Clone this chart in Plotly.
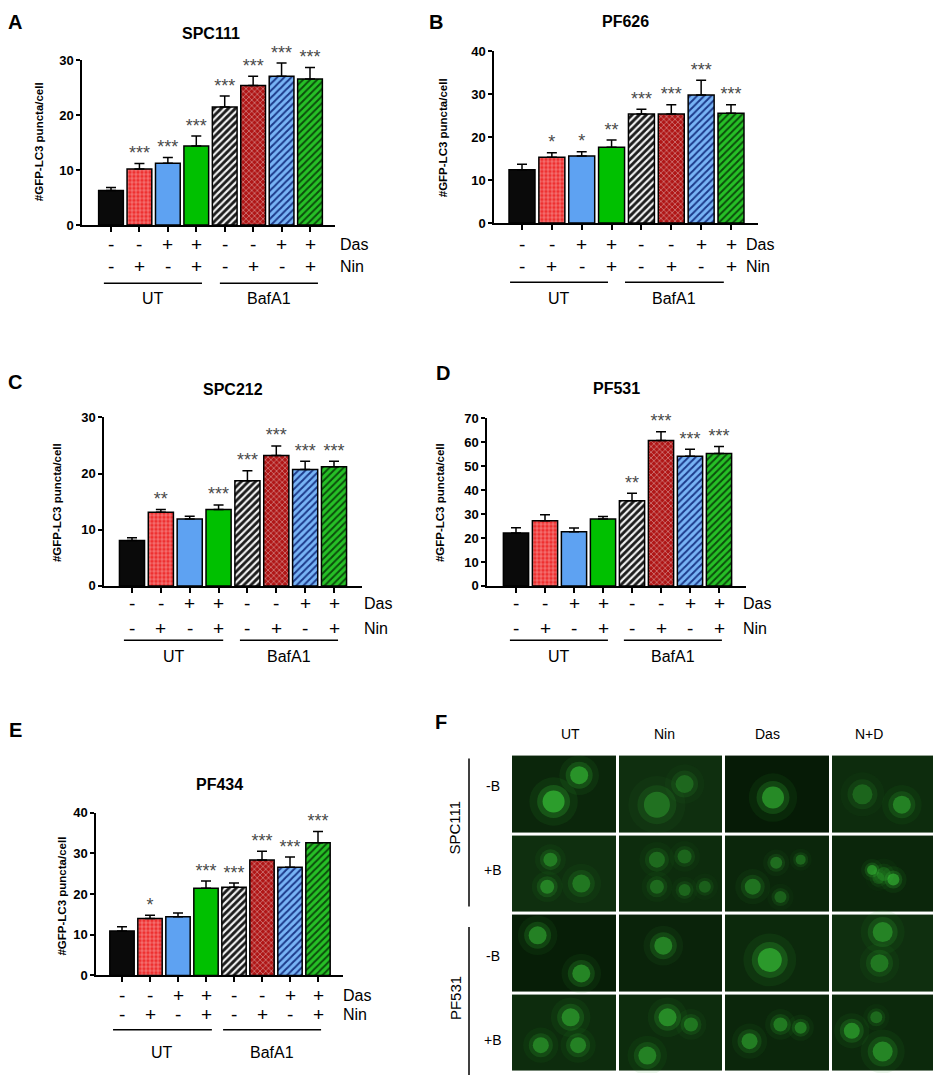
import plotly.graph_objects as go

# ---------------- data ----------------
das = ['-', '-', '+', '+', '-', '-', '+', '+']
nin = ['-', '+', '-', '+', '-', '+', '-', '+']
groups = ['UT', 'BafA1']

A_mean = [6.3, 10.2, 11.25, 14.4, 21.5, 25.4, 27.1, 26.6]
A_err = [0.55, 1.0, 1.05, 1.8, 2.0, 1.7, 2.4, 2.1]
A_stars = ['', '***', '***', '***', '***', '***', '***', '***']

B_mean = [12.4, 15.35, 15.65, 17.65, 25.4, 25.4, 29.85, 25.6]
B_err = [1.3, 1.05, 1.0, 1.7, 1.15, 2.2, 3.45, 2.0]
B_stars = ['', '*', '*', '**', '***', '***', '***', '***']

C_mean = [8.1, 13.1, 11.9, 13.6, 18.7, 23.2, 20.7, 21.2]
C_err = [0.45, 0.5, 0.5, 0.8, 1.8, 1.7, 1.5, 1.0]
C_stars = ['', '**', '', '***', '***', '***', '***', '***']

D_mean = [22.1, 27.2, 22.6, 27.9, 35.6, 60.7, 54.1, 55.3]
D_err = [2.2, 2.5, 1.6, 1.1, 3.1, 3.7, 3.0, 2.9]
D_stars = ['', '', '', '', '**', '***', '***', '***']

E_mean = [10.9, 13.98, 14.4, 21.4, 21.7, 28.4, 26.6, 32.6]
E_err = [1.05, 0.8, 0.95, 1.8, 1.0, 2.1, 2.5, 2.8]
E_stars = ['', '*', '', '***', '***', '***', '***', '***']

# panel F: microscopy tiles (rows: SPC111 -B, SPC111 +B, PF531 -B, PF531 +B)
F_cols = ['UT', 'Nin', 'Das', 'N+D']
F_rows = ['-B', '+B', '-B', '+B']
F_cells = ['SPC111', 'PF531']
F_bg = [[0.30, 0.45, 0.10, 0.40],
        [0.45, 0.40, 0.30, 0.30],
        [0.15, 0.25, 0.35, 0.45],
        [0.40, 0.40, 0.30, 0.35]]
F_blob_row = [0, 0, 0, 0, 0, 0, 0,
              1, 1, 1, 1, 1, 1, 1, 1, 1, 1, 1, 1, 1, 1, 1, 1,
              2, 2, 2, 2, 2, 2,
              3, 3, 3, 3, 3, 3, 3, 3, 3, 3, 3, 3]
F_blob_col = [0, 0, 1, 1, 2, 3, 3,
              0, 0, 0, 1, 1, 1, 1, 1, 2, 2, 2, 2, 3, 3, 3, 3,
              0, 0, 1, 2, 3, 3,
              0, 0, 0, 1, 1, 1, 2, 2, 2, 3, 3, 3]
F_blob_fx = [0.40, 0.64, 0.37, 0.63, 0.46, 0.30, 0.67,
             0.37, 0.34, 0.66, 0.37, 0.63, 0.37, 0.63, 0.82, 0.27, 0.49, 0.72, 0.53, 0.39, 0.59, 0.50, 0.45,
             0.25, 0.66, 0.43, 0.43, 0.49, 0.46,
             0.56, 0.28, 0.63, 0.47, 0.69, 0.28, 0.24, 0.53, 0.72, 0.20, 0.49, 0.43]
F_blob_fy = [0.59, 0.26, 0.63, 0.37, 0.54, 0.50, 0.63,
             0.32, 0.66, 0.62, 0.32, 0.28, 0.66, 0.70, 0.66, 0.66, 0.36, 0.32, 0.79, 0.45, 0.57, 0.50, 0.55,
             0.27, 0.75, 0.40, 0.58, 0.23, 0.62,
             0.30, 0.65, 0.65, 0.30, 0.39, 0.78, 0.60, 0.39, 0.43, 0.47, 0.73, 0.30]
F_blob_size = [22, 18, 26, 18, 22, 20, 18,
               14, 14, 18, 16, 14, 14, 12, 12, 16, 12, 10, 12, 10, 12, 14, 12,
               18, 18, 18, 24, 20, 18,
               18, 16, 16, 18, 14, 18, 16, 14, 12, 16, 20, 12]
F_blob_bright = [1.0, 0.9, 0.55, 0.45, 0.85, 0.45, 0.7,
                 0.65, 0.7, 0.6, 0.5, 0.45, 0.5, 0.45, 0.4, 0.6, 0.55, 0.5, 0.45, 0.8, 0.85, 0.35, 0.3,
                 0.75, 0.8, 0.75, 0.95, 0.7, 0.6,
                 0.75, 0.7, 0.7, 0.8, 0.6, 0.7, 0.7, 0.65, 0.65, 0.8, 0.75, 0.5]

# ---------------- geometry (page pixels; the page body keeps its default 8 px margin) ----------------
PAGE_W, PAGE_H = 941, 1091
OFF = 8
W, H = PAGE_W - OFF, PAGE_H - 2 * OFF


def px(x):
    return min(max((x - OFF) / W, 0.0), 1.0)


def py(y):
    return min(max(1 - (y - OFF) / H, 0.0), 1.0)


bar_style = [
    dict(color='#0a0a0a'),
    dict(color='#ee3030', pattern=dict(shape='+', fgcolor='#ffffff', bgcolor='#ee3030',
                                       fgopacity=0.85, size=4, solidity=0.18)),
    dict(color='#5ea2f2'),
    dict(color='#00c000'),
    dict(color='#262626', pattern=dict(shape='/', fgcolor='#f2f2f2', bgcolor='#1c1c1c',
                                       fgopacity=1, size=5, solidity=0.42)),
    dict(color='#b81a1a', pattern=dict(shape='x', fgcolor='#f0f0f0', bgcolor='#b01616',
                                       fgopacity=0.8, size=4, solidity=0.22)),
    dict(color='#6aaaf4', pattern=dict(shape='/', fgcolor='#1c3a8a', bgcolor='#78b4f6',
                                       fgopacity=1, size=5, solidity=0.4)),
    dict(color='#22b822', pattern=dict(shape='/', fgcolor='#0b4d0b', bgcolor='#26c026',
                                       fgopacity=1, size=5, solidity=0.4)),
]

panels = [
    dict(letter='A', title='SPC111', mean=A_mean, err=A_err, stars=A_stars, ymax=30, dtick=10,
         x0=82, x1=335, c1=111, c8=310, y0=221, ytop=54, das_y=241, nin_y=263, lbl_x=338,
         line_y=280, grp_y=296, ut=(-0.25, 3.2), baf=(3.83, 7.28), yt=(39, 137),
         txy=(211, 27), lxy=(15, 15)),
    dict(letter='B', title='PF626', mean=B_mean, err=B_err, stars=B_stars, ymax=40, dtick=10,
         x0=494, x1=758, c1=522, c8=731, y0=219, ytop=45, das_y=241, nin_y=263, lbl_x=744,
         line_y=279, grp_y=296, ut=(-0.4, 2.88), baf=(3.45, 6.76), yt=(443, 133),
         txy=(625, 15), lxy=(436, 15)),
    dict(letter='C', title='SPC212', mean=C_mean, err=C_err, stars=C_stars, ymax=30, dtick=10,
         x0=104, x1=362, c1=132, c8=334, y0=587, ytop=416, das_y=605, nin_y=630, lbl_x=362,
         line_y=642, grp_y=659, ut=(-0.28, 3.16), baf=(3.74, 7.14), yt=(57, 503),
         txy=(233, 388), lxy=(15, 380)),
    dict(letter='D', title='PF531', mean=D_mean, err=D_err, stars=D_stars, ymax=70, dtick=10,
         x0=487, x1=746, c1=516, c8=719, y0=587, ytop=417, das_y=605, nin_y=630, lbl_x=741,
         line_y=642, grp_y=659, ut=(-0.21, 3.17), baf=(3.72, 7.1), yt=(440, 503),
         txy=(616, 387), lxy=(443, 371)),
    dict(letter='E', title='PF434', mean=E_mean, err=E_err, stars=E_stars, ymax=40, dtick=10,
         x0=96, x1=343, c1=122, c8=318, y0=982, ytop=817, das_y=1002, nin_y=1022, lbl_x=341,
         line_y=1037, grp_y=1060, ut=(-0.32, 3.21), baf=(3.61, 7.11), yt=(62, 902),
         txy=(219, 788), lxy=(15, 733)),
]

FONT = 'Liberation Sans'
fig = go.Figure()
annotations = []
shapes = []
layout_axes = {}


def note(x, y, text, size, xref='paper', yref='paper', xanchor='center', angle=0,
         weight='normal', color='black'):
    annotations.append(dict(x=x, xref=xref, y=y, yref=yref, text=text, showarrow=False,
                            xanchor=xanchor, yanchor='middle', textangle=angle,
                            font=dict(family=FONT, size=size, color=color, weight=weight)))


for k, p in enumerate(panels, start=1):
    xs = list(range(len(p['mean'])))
    sp = (p['c8'] - p['c1']) / 7.0
    lo = -(p['c1'] - p['x0']) / sp
    hi = 7 + (p['x1'] - p['c8']) / sp
    xa, ya = f'x{k}', f'y{k}'
    for i in xs:
        st = bar_style[i]
        mk = dict(color=st['color'], line=dict(color='black', width=1.5))
        if 'pattern' in st:
            mk['pattern'] = dict(fillmode='replace', **st['pattern'])
        fig.add_trace(go.Bar(
            x=[i], y=[p['mean'][i]], width=0.87, xaxis=xa, yaxis=ya, marker=mk,
            error_y=dict(type='data', symmetric=False, array=[p['err'][i]], arrayminus=[0],
                         color='black', thickness=1.5, width=5),
            showlegend=False, hoverinfo='skip'))
    fig.add_trace(go.Scatter(
        x=xs, y=[m + e for m, e in zip(p['mean'], p['err'])], text=p['stars'],
        mode='text', textposition='top center', xaxis=xa, yaxis=ya,
        textfont=dict(family=FONT, size=18, color='#4a4a4a'),
        showlegend=False, hoverinfo='skip', cliponaxis=False))
    layout_axes[f'xaxis{k}'] = dict(
        domain=[px(p['x0']), px(p['x1'])], range=[lo, hi], anchor=ya,
        showline=True, linecolor='black', linewidth=1.5, showgrid=False, zeroline=False,
        ticks='outside', ticklen=5, tickwidth=1.5, tickcolor='black',
        tickvals=xs, showticklabels=False, fixedrange=True)
    layout_axes[f'yaxis{k}'] = dict(
        domain=[py(p['y0']), py(p['ytop'])], range=[0, p['ymax']], anchor=xa,
        showline=True, linecolor='black', linewidth=1.5, showgrid=False, zeroline=False,
        ticks='outside', ticklen=4, tickwidth=1.5, tickcolor='black',
        tickvals=list(range(0, p['ymax'] + 1, p['dtick'])),
        tickfont=dict(family=FONT, size=13, color='black', weight='bold'), fixedrange=True)
    for i in xs:
        note(i, py(p['das_y']), das[i], 19, xref=xa)
        note(i, py(p['nin_y']), nin[i], 19, xref=xa)
    for lbl, yy in (('Das', p['das_y']), ('Nin', p['nin_y'])):
        note(px(p['lbl_x']), py(yy), lbl, 16, xanchor='left')
    for g, (a, b) in zip(groups, (p['ut'], p['baf'])):
        shapes.append(dict(type='line', xref=xa, yref='paper', x0=a, x1=b,
                           y0=py(p['line_y']), y1=py(p['line_y']),
                           line=dict(color='black', width=1.5)))
        note((a + b) / 2, py(p['grp_y']), g, 16, xref=xa)
    note(px(p['yt'][0]), py(p['yt'][1]), '#GFP-LC3 puncta/cell', 11.5, angle=-90, weight='bold')
    note(px(p['txy'][0]), py(p['txy'][1]), p['title'], 16, weight='bold')
    note(px(p['lxy'][0]), py(p['lxy'][1]), p['letter'], 20, weight='bold')

# ---------------- panel F ----------------
fig.add_trace(go.Heatmap(
    z=F_bg, x=[0, 1, 2, 3], y=[0, 1, 2, 3], xaxis='x6', yaxis='y6',
    colorscale=[[0, '#031503'], [1, '#1d4e1d']], zmin=0, zmax=1, showscale=False,
    xgap=3, ygap=3, hoverinfo='skip'))
bx = [c - 0.5 + f for c, f in zip(F_blob_col, F_blob_fx)]
by = [r - 0.5 + f for r, f in zip(F_blob_row, F_blob_fy)]
for scale, op, col in ((2.2, 0.12, '#2a9a2a'), (1.5, 0.25, '#32b832'), (1.0, 0.55, '#3ed83e')):
    fig.add_trace(go.Scatter(
        x=bx, y=by, mode='markers', xaxis='x6', yaxis='y6',
        marker=dict(size=[s * scale for s in F_blob_size], color=col,
                    opacity=[b * op for b in F_blob_bright], line=dict(width=0)),
        showlegend=False, hoverinfo='skip'))
layout_axes['xaxis6'] = dict(domain=[px(511), px(937)], range=[-0.5, 3.5], visible=False,
                             anchor='y6', fixedrange=True)
layout_axes['yaxis6'] = dict(domain=[py(1081), py(758)], range=[3.5, -0.5], visible=False,
                             anchor='x6', fixedrange=True)
for lbl, hx in zip(F_cols, (570, 664, 767, 869)):
    note(px(hx), py(737), lbl, 14)
for lbl, ry in zip(F_rows, (790, 875, 962, 1048)):
    note(px(493), py(ry), lbl, 14)
for cl, cy in zip(F_cells, (832, 1005)):
    note(px(455), py(cy), cl, 15, angle=-90)
for (a, b) in ((762, 912), (933, 1083)):
    shapes.append(dict(type='line', xref='paper', yref='paper', x0=px(469), x1=px(469),
                       y0=py(a), y1=py(b), line=dict(color='black', width=1.5)))
note(px(441), py(725), 'F', 20, weight='bold')

fig.update_layout(width=W, height=H, margin=dict(l=0, r=0, t=0, b=0),
                  paper_bgcolor='white', plot_bgcolor='white', showlegend=False,
                  annotations=annotations, shapes=shapes, barmode='overlay', **layout_axes)
fig.write_html('out.html', config={'displayModeBar': False})
